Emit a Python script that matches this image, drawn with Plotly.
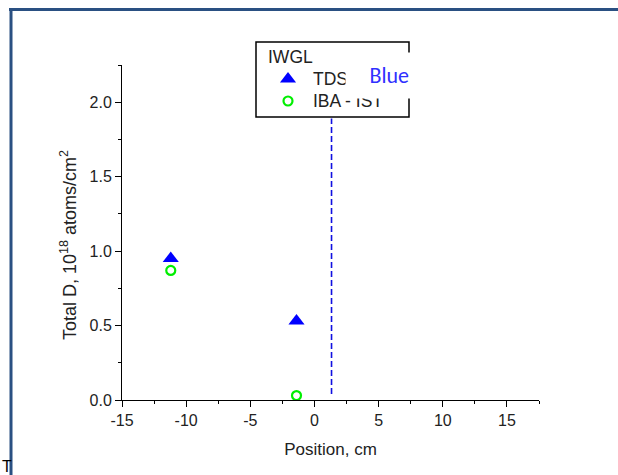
import plotly.graph_objects as go

# Measured deuterium retention along the IWGL tile
tds_position = [-11.2, -1.4]
tds_total_d = [0.95, 0.53]
iba_position = [-11.2, -1.4]
iba_total_d = [0.87, 0.03]

# Vertical boundary marker (runs up to the legend frame)
boundary_x = [1.33, 1.33]
boundary_y = [0.04, 1.89]

x_ticks = [-15, -10, -5, 0, 5, 10, 15]
y_ticks = [0.0, 0.5, 1.0, 1.5, 2.0]

legend_title = "IWGL"
series_names = ["TDS", "IBA - IST"]

W, H = 618, 475
ML, MR, MT, MB = 122, 79, 65, 75
PW, PH = W - ML - MR, H - MT - MB


def px(x):
    return (x - ML) / PW


def py(y):
    return (H - MB - y) / PH


FONT = "Arial, Liberation Sans, sans-serif"
TDS_MARKER = dict(symbol="triangle-up", size=14, color="#0000ff")
IBA_MARKER = dict(symbol="circle-open", size=9, color="#00ee00",
                  line=dict(width=2.2, color="#00ee00"))

# legend key layout (pixel positions within the page)
KEY_X = 288
KEY_TEXT_X = 312
KEY_ROWS_Y = [79, 101]

fig = go.Figure()

fig.add_trace(go.Scatter(
    x=boundary_x, y=boundary_y, mode="lines",
    line=dict(color="#1010e0", width=1.6, dash="6px,3px"),
    showlegend=False, hoverinfo="skip",
))
fig.add_trace(go.Scatter(
    x=tds_position, y=tds_total_d, mode="markers", name=series_names[0],
    marker=TDS_MARKER, showlegend=False,
))
fig.add_trace(go.Scatter(
    x=iba_position, y=iba_total_d, mode="markers", name=series_names[1],
    marker=IBA_MARKER, showlegend=False,
))

# legend keys, drawn on a pixel-space overlay
for marker, ky in zip([TDS_MARKER, IBA_MARKER], KEY_ROWS_Y):
    fig.add_trace(go.Scatter(
        x=[KEY_X], y=[ky], mode="markers", marker=marker,
        xaxis="x2", yaxis="y2", showlegend=False, hoverinfo="skip",
    ))

axis_common = dict(
    showgrid=False, zeroline=False, showline=True, linecolor="black",
    linewidth=1, ticks="outside", ticklen=6, tickcolor="black",
    tickfont=dict(family=FONT, size=16, color="#222"),
    minor=dict(ticks="outside", ticklen=3, tickcolor="black"),
)

fig.update_layout(
    xaxis=dict(
        range=[-15, 17.5], tickvals=x_ticks, ticktext=[str(v) for v in x_ticks],
        minor_dtick=2.5,
        title=dict(text="Position, cm", font=dict(family=FONT, size=17, color="#222"),
                   standoff=14),
        **axis_common,
    ),
    yaxis=dict(
        range=[0, 2.25], tickvals=y_ticks, ticktext=[f"{v:.1f}" for v in y_ticks],
        minor_dtick=0.25,
        **axis_common,
    ),
    xaxis2=dict(overlaying="x", range=[ML, W - MR], visible=False),
    yaxis2=dict(overlaying="y", range=[H - MB, MT], visible=False),
)

shapes = [
    # legend frame
    dict(type="rect", xref="paper", yref="paper",
         x0=px(256), x1=px(409), y0=py(117), y1=py(42),
         line=dict(color="black", width=1.5), fillcolor="white", layer="below"),
    # slide frame
    dict(type="line", xref="paper", yref="paper",
         x0=px(9), x1=px(620), y0=py(9.5), y1=py(9.5),
         line=dict(color="#2a5082", width=3)),
    dict(type="line", xref="paper", yref="paper",
         x0=px(11), x1=px(11), y0=py(8), y1=py(480),
         line=dict(color="#2a5082", width=3)),
]

legend_font = dict(family=FONT, size=17.5, color="#222")
annotations = [
    dict(text="Total D, 10<sup>18</sup> atoms/cm<sup>2</sup>",
         xref="paper", yref="paper", x=px(68), y=py(245),
         xanchor="center", yanchor="middle", textangle=-90, showarrow=False,
         font=dict(family=FONT, size=18, color="#222")),
    dict(text=legend_title, xref="paper", yref="paper", x=px(266), y=py(57),
         xanchor="left", yanchor="middle", showarrow=False, font=legend_font),
]
for name, ky in zip(series_names, KEY_ROWS_Y):
    annotations.append(dict(
        text=name, xref="paper", yref="paper", x=px(KEY_TEXT_X - 1), y=py(ky),
        xanchor="left", yanchor="middle", showarrow=False, font=legend_font))
annotations += [
    dict(text="Blue", xref="paper", yref="paper", x=px(378.5), y=py(75.5),
         xanchor="center", yanchor="middle", width=61, height=41,
         align="right", valign="middle",
         showarrow=False, bgcolor="white", borderpad=2,
         font=dict(family="Carlito, Open Sans, sans-serif", size=22, color="#3030ff")),
    dict(text="T", xref="paper", yref="paper", x=px(0), y=py(466),
         xanchor="left", yanchor="middle", showarrow=False,
         font=dict(family=FONT, size=16, color="black")),
]

fig.update_layout(
    width=W, height=H,
    margin=dict(l=ML, r=MR, t=MT, b=MB),
    paper_bgcolor="white", plot_bgcolor="rgba(0,0,0,0)",
    shapes=shapes, annotations=annotations, showlegend=False,
)

fig.write_html("out.html")
